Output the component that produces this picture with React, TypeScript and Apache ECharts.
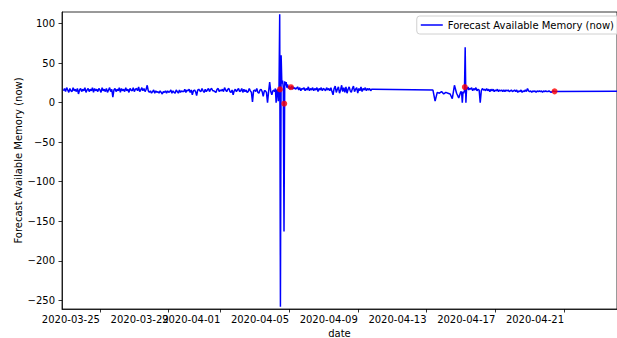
import React, { useEffect, useRef } from "react";
import * as echarts from "echarts";

const seriesName = "Forecast Available Memory (now)";
const HOUR = 3600 * 1000;

// segment A: every 1.5 hours from 2020-03-22 21:00
const segAStart = "2020-03-22T21:00:00Z";
const segAStep = 1.5;
const segAValues = [
  15, 18, 14, 19, 16, 13, 18, 15, 14, 19, 15, 17, 14, 18, 11, 16,
  18, 14, 17, 15, 19, 13, 16, 18, 14, 17, 15, 19, 13, 18, 15, 17,
  14, 18, 16, 13, 19, 15, 17, 14, 18, 13, 16, 19, 14, 17, 7, 16,
  18, 14, 17, 15, 19, 13, 18, 15, 17, 14, 19, 15, 17, 13, 18, 16,
  15, 19, 14, 17, 18, 15, 20, 14, 16, 19, 15, 18, 14, 17, 22, 15,
  13, 15, 12, 14, 16, 12, 15, 13, 14, 12, 15, 13, 11, 14, 13, 15,
  12, 15, 13, 14, 16, 12, 15, 13, 12, 16, 14, 12, 16, 13, 15, 14,
  14, 17, 13, 16, 15, 17, 13, 16, 10, 15, 16, 14, 9, 16, 17, 15,
  14, 18, 15, 13, 17, 14, 16, 18, 14, 17, 18, 15, 15, 14, 13, 17,
  18, 14, 16, 15, 17, 14, 19, 16, 14, 17, 18, 14, 13, 16, 10, 15,
  17, 14, 16, 18, 14, 15, 18, 13, 17, 14, 16, 13, 14, 18, 15, 13,
  1, 15, 16, 14, 18, 13, 12, 16, 17, 14, 8, 15, 15, 13, 0, 14,
  26, 14, 10, 15,
];

// segment B: hourly from 2020-04-04 03:00 (burst)
const segBStart = "2020-04-04T03:00:00Z";
const segBStep = 1;
const segBValues = [
  16, 14, 18, 0, 15, 17, 2, 14,
  112, -258, 60, 24, 28, 20, -163, 27,
  22, 26, 19, 23, 18, 21, 17, 20,
  18, 21, 17, 20, 18, 19, 17,
];

// segment C: every 1.5 hours from 2020-04-05 10:30
const segCStart = "2020-04-05T10:30:00Z";
const segCStep = 1.5;
const segCValues = [
  18, 20, 16, 19, 15, 18, 17, 19, 15, 18, 16, 20, 15, 18, 16, 19,
  15, 18, 16, 19, 14, 18, 16, 19, 15, 18, 17, 15, 19, 16, 18, 15,
  19, 14, 10, 18, 21, 13, 17, 20, 12, 16, 22, 14, 19, 13, 20, 12,
  17, 20, 15, 13, 18, 21, 14, 17, 19, 12, 18, 15, 20, 14, 18, 16,
  19, 15, 18, 16, 18, 15, 17, 17,
];

// segment D: every 3 hours from 2020-04-13 09:00
const segDStart = "2020-04-13T09:00:00Z";
const segDStep = 3;
const segDValues = [16, 2, 13, 12, 14, 11, 13, 12, 11, 5, 22, 12, 6, 14];

// segment E: hourly from 2020-04-15 01:00 (burst)
const segEStart = "2020-04-15T01:00:00Z";
const segEStep = 1;
const segEValues = [13, 0, 14, 12, 15, 70, 0, 19, 17, 20, 16, 18];

// segment F: every 1.5 hours from 2020-04-15 13:30
const segFStart = "2020-04-15T13:30:00Z";
const segFStep = 1.5;
const segFValues = [
  17, 19, 15, 18, 16, 19, 15, 17, 16, 0, 15, 18, 16, 17, 15, 18,
  15, 17, 14, 17, 15, 17, 14, 16, 15, 17, 14, 16, 15, 16, 14, 16,
  14, 16, 15, 16, 14, 15, 16, 14, 15, 16, 14, 16, 13, 15, 14, 16,
  13, 15, 14, 16, 14, 18, 15, 14, 15, 13, 15, 14, 15, 13, 15, 14,
  15, 14, 15, 13, 15, 14, 15, 14, 14, 15, 14, 13, 14, 15, 14, 14,
];

const lastTime = "2020-04-24T02:00:00Z";
const lastValue = 14.3;

// red markers
const dotTimes = [
  "2020-04-04T11:20:00Z",
  "2020-04-04T17:20:00Z",
  "2020-04-05T02:40:00Z",
  "2020-04-15T05:30:00Z",
  "2020-04-20T10:50:00Z",
];
const dotValues = [16.8, -1.3, 19.6, 19.7, 14.3];

const xTickLabels = [
  "2020-03-25",
  "2020-03-29",
  "2020-04-01",
  "2020-04-05",
  "2020-04-09",
  "2020-04-13",
  "2020-04-17",
  "2020-04-21",
];
const yTicks = [-250, -200, -150, -100, -50, 0, 50, 100];

const xMin = "2020-03-22T19:00:00Z";
const xMax = "2020-04-24T02:00:00Z";
const yMin = -261;
const yMax = 114.7;

function seg(start: string, stepH: number, values: number[]): [number, number][] {
  const s = Date.parse(start);
  return values.map((v, i) => [s + i * stepH * HOUR, v] as [number, number]);
}

export default function App() {
  const ref = useRef<HTMLDivElement>(null);
  useEffect(() => {
    if (!ref.current) return;
    const chart = echarts.init(ref.current, undefined, { renderer: "svg" });
    const lineData: [number, number][] = [
      ...seg(segAStart, segAStep, segAValues),
      ...seg(segBStart, segBStep, segBValues),
      ...seg(segCStart, segCStep, segCValues),
      ...seg(segDStart, segDStep, segDValues),
      ...seg(segEStart, segEStep, segEValues),
      ...seg(segFStart, segFStep, segFValues),
      [Date.parse(lastTime), lastValue],
    ];
    const dotData = dotTimes.map((t, i) => [Date.parse(t), dotValues[i]]);
    const xTicks = xTickLabels.map((d) => Date.parse(d + "T00:00:00Z"));
    const font = "DejaVu Sans";
    chart.setOption({
      animation: false,
      textStyle: { fontFamily: font },
      grid: {
        left: 62,
        right: 0,
        top: 12,
        bottom: 29,
        show: true,
        borderColor: "#000",
        borderWidth: 0.8,
        containLabel: false,
        outerBoundsMode: "none",
      },
      legend: {
        data: [{ name: seriesName, icon: "rect" }],
        right: -3,
        top: 16,
        itemWidth: 22,
        itemHeight: 1.5,
        itemGap: 8,
        padding: [4, 6, 4, 4],
        borderColor: "#d0d0d0",
        borderWidth: 1,
        borderRadius: 3,
        backgroundColor: "rgba(255,255,255,0.8)",
        textStyle: { fontFamily: font, fontSize: 10, color: "#000" },
      },
      xAxis: {
        type: "value",
        min: Date.parse(xMin),
        max: Date.parse(xMax),
        name: "date",
        nameLocation: "middle",
        nameGap: 19,
        nameMoveOverlap: false,
        nameTextStyle: { fontFamily: font, fontSize: 10, color: "#000" },
        axisLine: { show: true, onZero: false, lineStyle: { color: "#000", width: 0.8 } },
        axisTick: {
          show: true,
          inside: false,
          length: 3.5,
          customValues: xTicks,
          lineStyle: { color: "#000", width: 0.8 },
        },
        axisLabel: {
          customValues: xTicks,
          align: "right",
          margin: 5,
          fontFamily: font,
          fontSize: 10,
          color: "#000",
          hideOverlap: false,
          formatter: (v: number) => new Date(v).toISOString().slice(0, 10),
        },
        splitLine: { show: false },
      },
      yAxis: {
        type: "value",
        min: yMin,
        max: yMax,
        name: seriesName,
        nameLocation: "middle",
        nameGap: 39,
        nameMoveOverlap: false,
        nameTextStyle: { fontFamily: font, fontSize: 10, color: "#000" },
        axisLine: { show: true, onZero: false, lineStyle: { color: "#000", width: 0.8 } },
        axisTick: {
          show: true,
          inside: false,
          length: 3.5,
          customValues: yTicks,
          lineStyle: { color: "#000", width: 0.8 },
        },
        axisLabel: {
          customValues: yTicks,
          margin: 7,
          fontFamily: font,
          fontSize: 10,
          color: "#000",
          formatter: (v: number) => String(v).replace("-", "\u2212"),
        },
        splitLine: { show: false },
      },
      series: [
        {
          name: seriesName,
          type: "line",
          data: lineData,
          showSymbol: false,
          symbol: "none",
          lineStyle: { color: "#0000ff", width: 1.5 },
          itemStyle: { color: "#0000ff" },
          clip: true,
          z: 2,
        },
        {
          name: "anomalies",
          type: "scatter",
          data: dotData,
          symbolSize: 6,
          itemStyle: { color: "#ff0000" },
          z: 3,
        },
      ],
    });
    return () => chart.dispose();
  }, []);
  return (
    <div
      ref={ref}
      style={{ position: "absolute", left: 0, top: 0, width: 617, height: 338 }}
    />
  );
}
